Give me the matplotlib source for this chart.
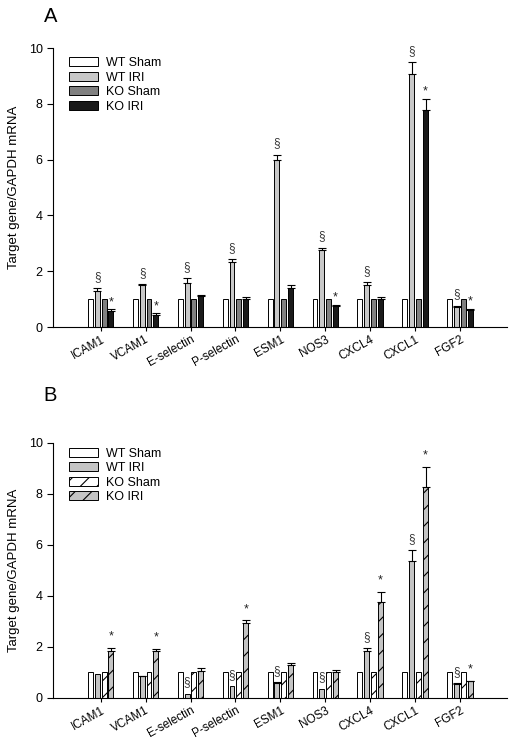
import matplotlib
matplotlib.use("Agg")
import matplotlib.pyplot as plt
from matplotlib.patches import Patch
import numpy as np

plt.rcParams['font.family'] = ['Liberation Sans', 'DejaVu Sans']
plt.rcParams['hatch.linewidth'] = 0.8

genes = ["ICAM1", "VCAM1", "E-selectin", "P-selectin", "ESM1", "NOS3", "CXCL4", "CXCL1", "FGF2"]
groups = ["WT Sham", "WT IRI", "KO Sham", "KO IRI"]

# Panel A
a_wt_sham = [1.0, 1.0, 1.0, 1.0, 1.0, 1.0, 1.0, 1.0, 1.0]
a_wt_iri = [1.30, 1.51, 1.59, 2.32, 5.98, 2.76, 1.51, 9.08, 0.73]
a_wt_iri_err = [0.09, 0.04, 0.17, 0.11, 0.20, 0.09, 0.09, 0.42, 0.04]
a_ko_sham = [1.0, 1.0, 1.0, 1.0, 1.0, 1.0, 1.0, 1.0, 1.0]
a_ko_iri = [0.57, 0.44, 1.11, 0.99, 1.40, 0.74, 0.99, 7.79, 0.61]
a_ko_iri_err = [0.06, 0.06, 0.04, 0.07, 0.10, 0.06, 0.07, 0.40, 0.04]
a_sig_wt = [True, True, True, True, True, True, True, True, True]
a_sig_ko = [True, True, False, False, False, True, False, True, True]

# Panel B
b_wt_sham = [1.0, 1.0, 1.0, 1.0, 1.0, 1.0, 1.0, 1.0, 1.0]
b_wt_iri = [0.95, 0.85, 0.17, 0.46, 0.59, 0.37, 1.85, 5.38, 0.53]
b_wt_iri_err = [0.0, 0.03, 0.0, 0.0, 0.02, 0.0, 0.09, 0.41, 0.04]
b_ko_sham = [1.0, 1.0, 1.0, 1.0, 1.0, 1.0, 1.0, 1.0, 1.0]
b_ko_iri = [1.85, 1.83, 1.06, 2.93, 1.28, 1.02, 3.75, 8.25, 0.65]
b_ko_iri_err = [0.12, 0.09, 0.11, 0.11, 0.09, 0.06, 0.40, 0.80, 0.03]
b_sig_wt = [False, False, True, True, True, True, True, True, True]
b_sig_ko = [True, True, False, True, False, False, True, True, True]

fig = plt.figure(figsize=(5.12, 7.39), dpi=100)
axA = fig.add_axes([0.1035, 0.5575, 0.8865, 0.3775])
axB = fig.add_axes([0.1035, 0.0555, 0.8865, 0.3455])

pitch = 0.153
width = 0.11
x = np.arange(len(genes))


def draw(ax, vals, errs, styles, sig_wt, sig_ko, star_off, sect_off, legend_y):
    offsets = (np.arange(4) - 1.5) * pitch
    for i, (v, e, st) in enumerate(zip(vals, errs, styles)):
        ax.bar(x + offsets[i], v, width, facecolor=st[0], hatch=st[1],
               edgecolor='black', linewidth=0.7, zorder=2)
        if e is not None:
            e = np.array(e)
            m = e > 0
            ax.errorbar((x + offsets[i])[m], np.array(v)[m], yerr=[np.zeros(m.sum()), e[m]],
                        fmt='none', ecolor='black', elinewidth=0.8, capsize=3,
                        capthick=0.8, zorder=3)
    wt_top = np.array(vals[1]) + np.array(errs[1])
    ko_top = np.array(vals[3]) + np.array(errs[3])
    for j in range(len(genes)):
        if sig_wt[j]:
            ax.annotate('§', (x[j] + offsets[1], wt_top[j]), xytext=(0, sect_off),
                        textcoords='offset points', ha='center', va='center',
                        fontsize=8.5, color='#333333', annotation_clip=False)
        if sig_ko[j]:
            ax.annotate('*', (x[j] + offsets[3], ko_top[j]), xytext=(0, star_off),
                        textcoords='offset points', ha='center', va='center',
                        fontsize=9, color='#222222', annotation_clip=False)
    ax.set_xlim(-1.06, 9.04)
    ax.set_ylim(0, 10)
    ax.set_yticks([0, 2, 4, 6, 8, 10])
    ax.set_xticks(x)
    ax.set_xticklabels(genes, rotation=29, ha='right', rotation_mode='anchor', fontsize=8.5)
    ax.tick_params(axis='y', labelsize=9, length=4, width=0.8, direction='out')
    ax.tick_params(axis='x', length=3, width=0.8, direction='out', pad=1.5)
    for s in ['top', 'right']:
        ax.spines[s].set_visible(False)
    for s in ['left', 'bottom']:
        ax.spines[s].set_linewidth(0.8)
    ax.set_ylabel('Target gene/GAPDH mRNA', fontsize=9.5, labelpad=6)
    handles = [Patch(facecolor=st[0], hatch=st[1], edgecolor='black', linewidth=0.7)
               for st in styles]
    ax.legend(handles, groups, loc='upper left', bbox_to_anchor=(0.025, legend_y),
              frameon=False, fontsize=9, handlelength=2.3, handleheight=0.7,
              labelspacing=0.2, handletextpad=0.6, borderaxespad=0)


stylesA = [('white', None), ('#c8c8c8', None), ('#808080', None), ('#1a1a1a', None)]
draw(axA, [a_wt_sham, a_wt_iri, a_ko_sham, a_ko_iri],
     [None, a_wt_iri_err, None, a_ko_iri_err], stylesA, a_sig_wt, a_sig_ko,
     5, 8, 0.985)
stylesB = [('white', None), ('#c4c4c4', None), ('white', '//'), ('#c4c4c4', '//')]
draw(axB, [b_wt_sham, b_wt_iri, b_ko_sham, b_ko_iri],
     [None, b_wt_iri_err, None, b_ko_iri_err], stylesB, b_sig_wt, b_sig_ko,
     8, 8, 1.0)

fig.text(0.098, 0.978, 'A', fontsize=14.5, ha='center', va='center')
fig.text(0.098, 0.465, 'B', fontsize=14.5, ha='center', va='center')

fig.savefig('out.png', dpi=100)
